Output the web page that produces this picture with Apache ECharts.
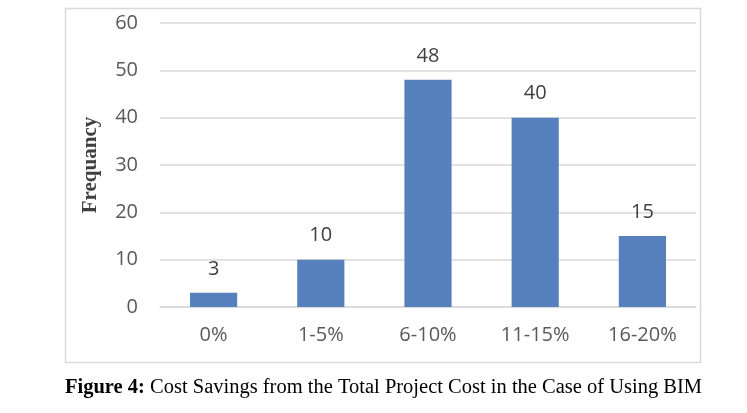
<!DOCTYPE html>
<html><head><meta charset="utf-8">
<script src="https://cdn.jsdelivr.net/npm/echarts@6/dist/echarts.min.js"></script>
<style>html,body{margin:0;padding:0;background:#fff}#c{width:747px;height:413px}</style>
</head><body><div id="c"></div>
<script>
var categories = ['0%', '1-5%', '6-10%', '11-15%', '16-20%'];
var frequency = [3, 10, 48, 40, 15];
var yTicks = [0, 10, 20, 30, 40, 50, 60];
var chart = echarts.init(document.getElementById('c'));
chart.setOption({
  animation: false,
  backgroundColor: '#fff',
  graphic: [{
    type: 'rect', left: 63, top: 6, z: -1,
    shape: { width: 635, height: 354 },
    style: { fill: 'none', stroke: '#d9d9d9', lineWidth: 1.5 }
  }, {
    type: 'text', left: 65, top: 377,
    style: {
      text: '{b|Figure 4:} Cost Savings from the Total Project Cost in the Case of Using BIM',
      fontFamily: 'Liberation Serif', fontSize: 20.5, fill: '#000',
      rich: { b: { fontWeight: 'bold', fontFamily: 'Liberation Serif', fontSize: 20.5 } }
    }
  }],
  grid: { left: 160, right: 51, top: 23, bottom: 106 },
  xAxis: {
    type: 'category', data: categories,
    axisLine: { show: true, lineStyle: { color: '#d9d9d9', width: 1.5 } },
    axisTick: { show: false },
    axisLabel: { color: '#595959', fontSize: 20, fontFamily: 'Open Sans', margin: 18 }
  },
  yAxis: {
    type: 'value', min: yTicks[0], max: yTicks[yTicks.length - 1], interval: 10,
    name: 'Frequancy', nameLocation: 'middle', nameGap: 59, nameRotate: 90,
    nameTextStyle: { fontFamily: 'Liberation Serif', fontWeight: 'bold', fontSize: 21, color: '#404040' },
    axisLine: { show: false }, axisTick: { show: false },
    splitLine: { lineStyle: { color: '#d9d9d9', width: 1.5 } },
    axisLabel: { color: '#595959', fontSize: 20, fontFamily: 'Open Sans', margin: 22 }
  },
  series: [{
    type: 'bar', data: frequency, barWidth: '44%',
    itemStyle: { color: '#5680bb' },
    label: { show: true, position: 'top', distance: 14, color: '#404040', fontSize: 20, fontFamily: 'Open Sans' }
  }]
});
</script></body></html>
